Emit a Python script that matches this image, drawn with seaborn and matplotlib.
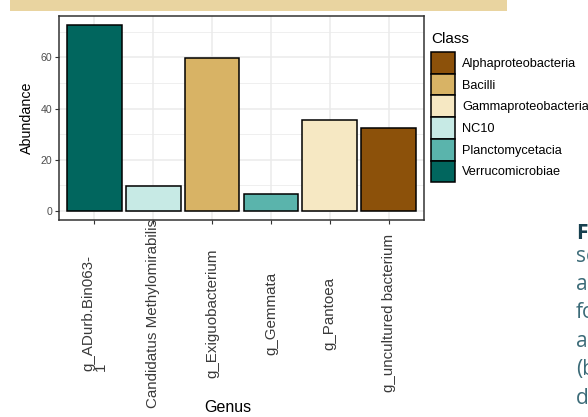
import matplotlib
matplotlib.use("Agg")
import matplotlib.pyplot as plt
from matplotlib.patches import Patch, Rectangle
from matplotlib.ticker import MultipleLocator
import pandas as pd
import seaborn as sns

# Genus-level abundance, coloured by class
genus = ["g_ADurb.Bin063-\n1", "Candidatus Methylomirabilis", "g_Exiguobacterium",
         "g_Gemmata", "g_Pantoea", "g_uncultured bacterium"]
genus_class = ["Verrucomicrobiae", "NC10", "Bacilli", "Planctomycetacia",
               "Gammaproteobacteria", "Alphaproteobacteria"]
abundance = [72.6, 9.5, 59.7, 6.5, 35.5, 32.5]

class_order = ["Alphaproteobacteria", "Bacilli", "Gammaproteobacteria",
               "NC10", "Planctomycetacia", "Verrucomicrobiae"]
class_colors = ["#8C510A", "#D8B365", "#F6E8C3", "#C7EAE5", "#5AB4AC", "#01665E"]

y_ticks = [0, 20, 40, 60]

df = pd.DataFrame({"Genus": genus, "Class": genus_class, "Abundance": abundance})

sns.set_style("white")
plt.rcParams["font.family"] = ["Liberation Sans", "DejaVu Sans"]

W, H = 588, 417
fig = plt.figure(figsize=(W / 100, H / 100), dpi=100)
fig.patch.set_facecolor("white")

# panel box in pixel units
L, R, T, B = 59, 424, 16, 220
ax = fig.add_axes([L / W, 1 - B / H, (R - L) / W, (B - T) / H])

sns.barplot(data=df, x="Genus", y="Abundance", hue="Class", order=genus,
            hue_order=class_order, palette=class_colors, dodge=False,
            width=0.93, edgecolor="black", linewidth=1.1, legend=False,
            saturation=1, ax=ax)

ymax = max(abundance)
ax.set_xlim(-0.6, len(genus) - 0.4)
ax.set_ylim(-0.05 * ymax, ymax * 1.05)
ax.set_yticks(y_ticks)
ax.yaxis.set_minor_locator(MultipleLocator(10))

ax.set_axisbelow(True)
ax.grid(which="major", color="#EBEBEB", linewidth=1.1)
ax.grid(which="minor", axis="y", color="#EBEBEB", linewidth=0.55)

for sp in ax.spines.values():
    sp.set_visible(True)
    sp.set_color("#333333")
    sp.set_linewidth(1.1)

ax.tick_params(axis="both", which="major", length=3, width=0.8, color="#333333",
               direction="out", bottom=True, left=True)
ax.tick_params(axis="y", which="major", labelsize=7.6, labelcolor="#4D4D4D", pad=2)
ax.tick_params(which="minor", length=0)

ax.set_xticks(range(len(genus)))
ax.set_xticklabels(genus, rotation=90, fontsize=10.9, color="#3A3A3A",
                   va="center", ha="center", multialignment="left",
                   linespacing=0.85)
ax.tick_params(axis="x", pad=64)

ax.set_xlabel("Genus", fontsize=11.5, color="black")
ax.xaxis.set_label_coords((228 - L) / (R - L), -(407 - B) / (B - T))
ax.xaxis.label.set_va("center")
ax.set_ylabel("Abundance", fontsize=10.3, color="black")
ax.yaxis.set_label_coords(-(L - 27) / (R - L), 0.5)
ax.yaxis.label.set_va("center")

# legend: title placed on its own, keys stacked edge to edge
fig.text(431 / W, 1 - 32 / H, "Class", fontsize=11, color="black",
         ha="left", va="top")
handles = [Patch(facecolor=c, edgecolor="black", linewidth=1.1) for c in class_colors]
fs = 9.2
fpx = fs * 100 / 72
key_w, key_h = 24, 21.7
leg = ax.legend(handles, class_order, loc="upper left",
                bbox_to_anchor=(431 / W, 1 - 52 / H), bbox_transform=fig.transFigure,
                frameon=False, fontsize=fs,
                handlelength=key_w / fpx,
                handleheight=(key_h / fpx - 0.245) / 0.65,
                labelspacing=0, handletextpad=7 / fpx, borderpad=0, borderaxespad=0)
for t in leg.get_texts():
    t.set_color("black")

# page decoration around the figure
fig.add_artist(Rectangle((10 / W, 1 - 11 / H), 497 / W, 11 / H,
                         transform=fig.transFigure, facecolor="#E9D4A0",
                         edgecolor="none"))

side_lines = ["F", "se", "at", "fo", "a", "(b", "d"]
side_base = [239, 262, 290, 318, 347, 375, 404]
for i, (txt, yb) in enumerate(zip(side_lines, side_base)):
    fig.text(576 / W, 1 - yb / H, txt, fontsize=15, family="Open Sans",
             fontweight="bold" if i == 0 else "normal",
             color="#17404F" if i == 0 else "#3C6B78",
             ha="left", va="baseline")

fig.savefig("out.png", dpi=100)
